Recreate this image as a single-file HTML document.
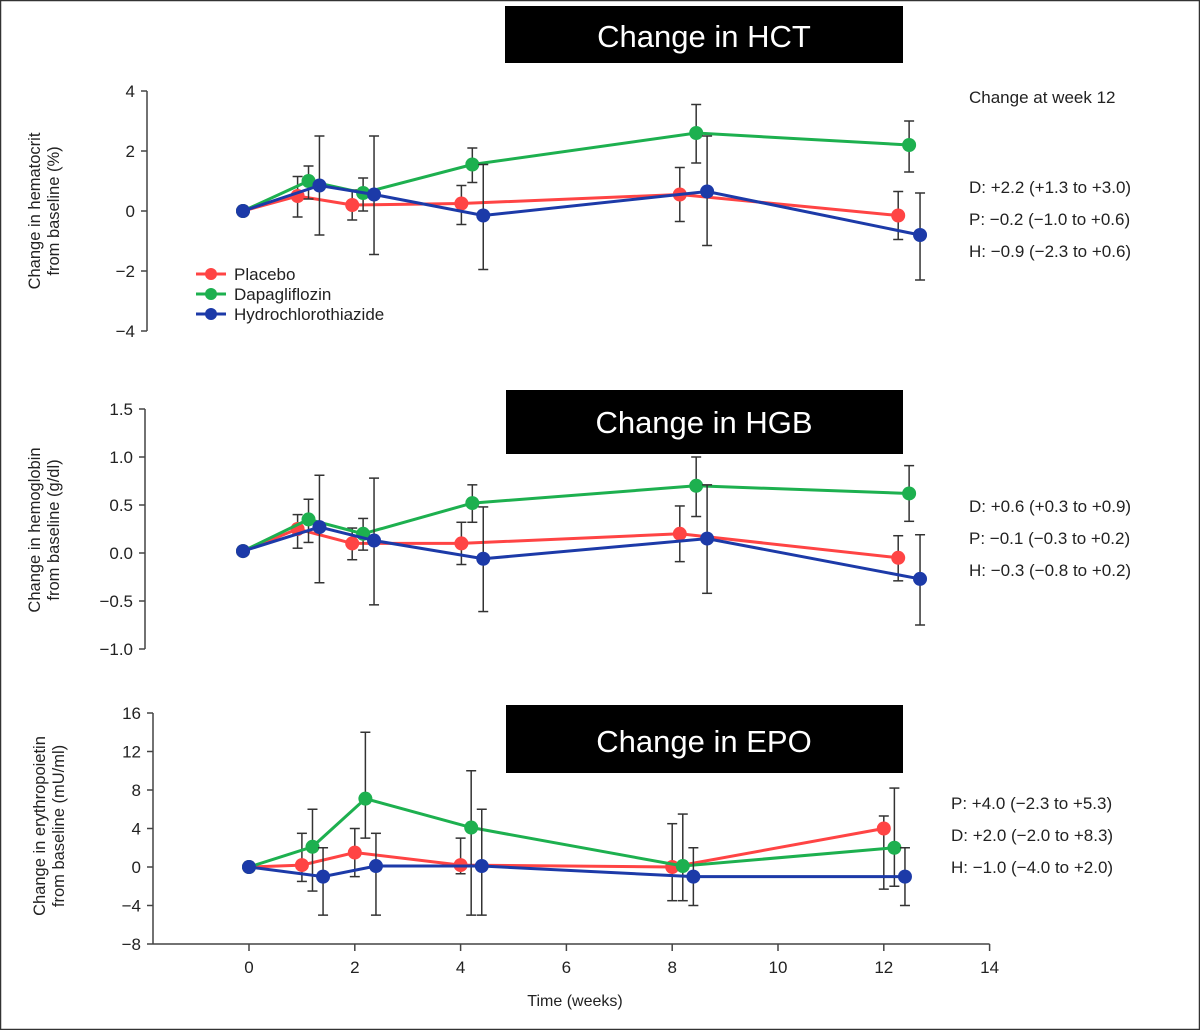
<!DOCTYPE html>
<html><head><meta charset="utf-8"><style>
html,body{margin:0;padding:0;background:#fff;}
svg{display:block;font-family:"Liberation Sans",sans-serif;}
</style></head><body>
<svg id="chart" width="1200" height="1030" viewBox="0 0 1200 1030" xmlns="http://www.w3.org/2000/svg">
<rect x="0.5" y="0.5" width="1199" height="1029" fill="#fff" stroke="#333" stroke-width="1.5"/>
<g><rect x="505" y="6" width="398" height="57" fill="#000"/><text x="704" y="47" fill="#fff" font-size="31" text-anchor="middle">Change in HCT</text></g>
<g><rect x="506" y="390" width="397" height="64" fill="#000"/><text x="704" y="433" fill="#fff" font-size="31" text-anchor="middle">Change in HGB</text></g>
<g><rect x="506" y="705" width="397" height="68" fill="#000"/><text x="704" y="752" fill="#fff" font-size="31" text-anchor="middle">Change in EPO</text></g>
<g font-size="17" fill="#222">
<text x="969" y="103">Change at week 12</text>
<text x="969" y="193">D: +2.2 (+1.3 to +3.0)</text>
<text x="969" y="225">P: −0.2 (−1.0 to +0.6)</text>
<text x="969" y="257">H: −0.9 (−2.3 to +0.6)</text>
<text x="969" y="512">D: +0.6 (+0.3 to +0.9)</text>
<text x="969" y="544">P: −0.1 (−0.3 to +0.2)</text>
<text x="969" y="576">H: −0.3 (−0.8 to +0.2)</text>
<text x="951" y="809">P: +4.0 (−2.3 to +5.3)</text>
<text x="951" y="841">D: +2.0 (−2.0 to +8.3)</text>
<text x="951" y="873">H: −1.0 (−4.0 to +2.0)</text>
</g>
<g id="plots"></g>
<g font-size="17" fill="#222">
<line x1="196" y1="274" x2="226" y2="274" stroke="#f44" stroke-width="3"/><circle cx="211" cy="274" r="6" fill="#f44"/><text x="234" y="280">Placebo</text>
<line x1="196" y1="294" x2="226" y2="294" stroke="#1db04f" stroke-width="3"/><circle cx="211" cy="294" r="6" fill="#1db04f"/><text x="234" y="300">Dapagliflozin</text>
<line x1="196" y1="314" x2="226" y2="314" stroke="#1c3aa8" stroke-width="3"/><circle cx="211" cy="314" r="6" fill="#1c3aa8"/><text x="234" y="320">Hydrochlorothiazide</text>
</g>
</svg>
<script>
// ---- data ----
const hctPlaceboX=[0,1,2,4,8,12];
const hctPlaceboY=[0,0.5,0.2,0.25,0.55,-0.15];
const hctPlaceboLo=[0,-0.2,-0.3,-0.45,-0.35,-0.95];
const hctPlaceboHi=[0,1.15,0.7,0.85,1.45,0.65];
const hctDapaX=[0,1.2,2.2,4.2,8.3,12.2];
const hctDapaY=[0,1.0,0.6,1.55,2.6,2.2];
const hctDapaLo=[0,0.4,0.0,0.95,1.6,1.3];
const hctDapaHi=[0,1.5,1.1,2.1,3.55,3.0];
const hctHctzX=[0,1.4,2.4,4.4,8.5,12.4];
const hctHctzY=[0,0.85,0.55,-0.15,0.65,-0.8];
const hctHctzLo=[0,-0.8,-1.45,-1.95,-1.15,-2.3];
const hctHctzHi=[0,2.5,2.5,1.55,2.5,0.6];
const hctTicks=[4,2,0,-2,-4];

const hgbPlaceboX=[0,1,2,4,8,12];
const hgbPlaceboY=[0.02,0.25,0.1,0.1,0.2,-0.05];
const hgbPlaceboLo=[0.02,0.05,-0.07,-0.12,-0.09,-0.29];
const hgbPlaceboHi=[0.02,0.4,0.26,0.32,0.49,0.18];
const hgbDapaX=[0,1.2,2.2,4.2,8.3,12.2];
const hgbDapaY=[0.02,0.35,0.2,0.52,0.7,0.62];
const hgbDapaLo=[0.02,0.11,0.03,0.32,0.38,0.33];
const hgbDapaHi=[0.02,0.56,0.36,0.71,1.0,0.91];
const hgbHctzX=[0,1.4,2.4,4.4,8.5,12.4];
const hgbHctzY=[0.02,0.27,0.13,-0.06,0.15,-0.27];
const hgbHctzLo=[0.02,-0.31,-0.54,-0.61,-0.42,-0.75];
const hgbHctzHi=[0.02,0.81,0.78,0.48,0.71,0.19];
const hgbTicks=[1.5,1.0,0.5,0.0,-0.5,-1.0];

const epoPlaceboX=[0,1,2,4,8,12];
const epoPlaceboY=[0,0.2,1.5,0.2,0,4];
const epoPlaceboLo=[0,-1.5,-1,-0.7,-3.5,-2.3];
const epoPlaceboHi=[0,3.5,4,3,4.5,5.3];
const epoDapaX=[0,1.2,2.2,4.2,8.2,12.2];
const epoDapaY=[0,2.1,7.1,4.1,0.1,2];
const epoDapaLo=[0,-2.5,3,-5,-3.5,-2];
const epoDapaHi=[0,6,14,10,5.5,8.2];
const epoHctzX=[0,1.4,2.4,4.4,8.4,12.4];
const epoHctzY=[0,-1,0.1,0.1,-1,-1];
const epoHctzLo=[0,-5,-5,-5,-4,-4];
const epoHctzHi=[0,2,3.5,6,2,2];
const epoTicks=[16,12,8,4,0,-4,-8];
const xTicks=[0,2,4,6,8,10,12,14];

const NS='http://www.w3.org/2000/svg';
const root=document.getElementById('plots');
function mk(tag,attrs,parent){const e=document.createElementNS(NS,tag);for(const k in attrs)e.setAttribute(k,attrs[k]);(parent||root).appendChild(e);return e;}
const COL={placebo:'#f44',dapa:'#1db04f',hctz:'#1c3aa8'};

function panel(name,cfg){
  const g=mk('g',{});
  
  
  const sx=v=>cfg.x0+v*cfg.xs;
  const sy=v=>cfg.y0-v*cfg.ys;
  const yMax=cfg.ticks[0], yMin=cfg.ticks[cfg.ticks.length-1];
  const ax=mk('line',{x1:cfg.spine,y1:sy(yMax),x2:cfg.spine,y2:sy(yMin),stroke:'#444','stroke-width':1.5},g);
  
  
  cfg.ticks.forEach(t=>{
    mk('line',{x1:cfg.spine-6,y1:sy(t),x2:cfg.spine,y2:sy(t),stroke:'#444','stroke-width':1.5},g);
    const tx=mk('text',{x:cfg.spine-12,y:sy(t)+6,'font-size':17,'text-anchor':'end',fill:'#222'},g);
    tx.textContent=cfg.fmt(t);
    
    
  });
  const tt=mk('text',{transform:`translate(${cfg.titleX},${cfg.titleY}) rotate(-90)`,'font-size':16.5,'text-anchor':'middle',fill:'#222'},g);
  
  
  mk('tspan',{x:0,dy:0},tt).textContent=cfg.title[0];
  mk('tspan',{x:0,dy:19},tt).textContent=cfg.title[1];
  cfg.series.forEach(s=>{
    const sg=mk('g',{},g);
    
    
    s.x.forEach((xv,i)=>{
      if(s.lo[i]===s.hi[i])return;
      const X=sx(xv);
      mk('line',{x1:X,y1:sy(s.lo[i]),x2:X,y2:sy(s.hi[i]),stroke:'#333','stroke-width':1.5},sg);
      mk('line',{x1:X-5,y1:sy(s.lo[i]),x2:X+5,y2:sy(s.lo[i]),stroke:'#333','stroke-width':1.5},sg);
      mk('line',{x1:X-5,y1:sy(s.hi[i]),x2:X+5,y2:sy(s.hi[i]),stroke:'#333','stroke-width':1.5},sg);
    });
    const pts=s.x.map((xv,i)=>sx(xv)+','+sy(s.y[i])).join(' ');
    const pl=mk('polyline',{points:pts,fill:'none',stroke:COL[s.key],'stroke-width':3},sg);
    
    
    s.x.forEach((xv,i)=>{
      const c=mk('circle',{cx:sx(xv),cy:sy(s.y[i]),r:7,fill:COL[s.key]},sg);
      
      
    });
  });
  if(cfg.xaxis){
    const xl=mk('line',{x1:cfg.spine,y1:sy(yMin),x2:sx(14),y2:sy(yMin),stroke:'#444','stroke-width':1.5},g);
    
    
    xTicks.forEach(t=>{
      mk('line',{x1:sx(t),y1:sy(yMin),x2:sx(t),y2:sy(yMin)+7,stroke:'#444','stroke-width':1.5},g);
      const tx=mk('text',{x:sx(t),y:sy(yMin)+29,'font-size':17,'text-anchor':'middle',fill:'#222'},g);
      tx.textContent=t;
      
      
    });
    const xt=mk('text',{x:575,y:1006,'font-size':16,'text-anchor':'middle',fill:'#222'},g);
    xt.textContent='Time (weeks)';
    
    
  }
}
panel('hct',{x0:243,xs:54.6,y0:211,ys:30,spine:147,ticks:hctTicks,fmt:t=>t<0?'−'+(-t):String(t),
  title:['Change in hematocrit','from baseline (%)'],titleX:40,titleY:211,
  series:[{key:'placebo',x:hctPlaceboX,y:hctPlaceboY,lo:hctPlaceboLo,hi:hctPlaceboHi},
          {key:'dapa',x:hctDapaX,y:hctDapaY,lo:hctDapaLo,hi:hctDapaHi},
          {key:'hctz',x:hctHctzX,y:hctHctzY,lo:hctHctzLo,hi:hctHctzHi}]});
panel('hgb',{x0:243,xs:54.6,y0:553,ys:96,spine:145,ticks:hgbTicks,fmt:t=>t<0?'−'+(-t).toFixed(1):t.toFixed(1),
  title:['Change in hemoglobin','from baseline (g/dl)'],titleX:40,titleY:530,
  series:[{key:'placebo',x:hgbPlaceboX,y:hgbPlaceboY,lo:hgbPlaceboLo,hi:hgbPlaceboHi},
          {key:'dapa',x:hgbDapaX,y:hgbDapaY,lo:hgbDapaLo,hi:hgbDapaHi},
          {key:'hctz',x:hgbHctzX,y:hgbHctzY,lo:hgbHctzLo,hi:hgbHctzHi}]});
panel('epo',{x0:249,xs:52.9,y0:867,ys:9.625,spine:153,ticks:epoTicks,fmt:t=>t<0?'−'+(-t):String(t),xaxis:true,
  title:['Change in erythropoietin','from baseline (mU/ml)'],titleX:45,titleY:826,
  series:[{key:'placebo',x:epoPlaceboX,y:epoPlaceboY,lo:epoPlaceboLo,hi:epoPlaceboHi},
          {key:'dapa',x:epoDapaX,y:epoDapaY,lo:epoDapaLo,hi:epoDapaHi},
          {key:'hctz',x:epoHctzX,y:epoHctzY,lo:epoHctzLo,hi:epoHctzHi}]});
</script>
</body></html>
